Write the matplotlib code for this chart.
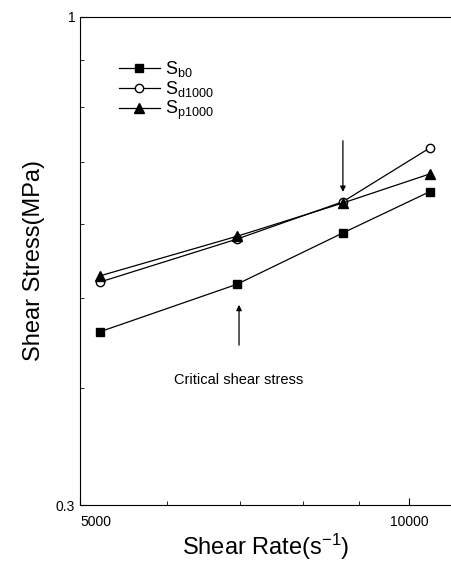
import numpy as np
import matplotlib
matplotlib.use("Agg")
import matplotlib.pyplot as plt
from matplotlib.ticker import FixedLocator, NullFormatter, FixedFormatter

plt.rcParams["font.family"] = ["Liberation Sans", "DejaVu Sans"]
plt.rcParams["mathtext.fontset"] = "custom"
plt.rcParams["mathtext.rm"] = "Liberation Sans"
plt.rcParams["mathtext.it"] = "Liberation Sans"

# data
shear_rate = [5215, 6955, 8700, 10450]
s_b0 = [0.460, 0.517, 0.587, 0.650]
s_d1000 = [0.520, 0.578, 0.634, 0.724]
s_p1000 = [0.528, 0.582, 0.632, 0.679]
labels = [r"S$_{\rm b0}$", r"S$_{\rm d1000}$", r"S$_{\rm p1000}$"]

x_ticks = [5000, 10000]
x_minor = [6000, 7000, 8000, 9000]
y_ticks = [0.3, 1]
y_minor = [0.4, 0.5, 0.6, 0.7, 0.8, 0.9]


def main():
    fig = plt.figure(figsize=(4.51, 5.62), dpi=100)
    ax = fig.add_axes([0.1774, 0.1014, 0.8226, 0.8684])
    ax.set_xscale("log")
    ax.set_yscale("log")

    ax.plot(shear_rate, s_b0, "-s", color="black", lw=0.9, ms=6,
            mfc="black", label=labels[0])
    ax.plot(shear_rate, s_d1000, "-o", color="black", lw=0.9, ms=6,
            mfc="white", label=labels[1])
    ax.plot(shear_rate, s_p1000, "-^", color="black", lw=0.9, ms=7,
            mfc="black", label=labels[2])

    ax.set_xlim(5000, 10925)
    ax.set_ylim(0.3, 1)

    ax.xaxis.set_major_locator(FixedLocator(x_ticks))
    ax.xaxis.set_major_formatter(FixedFormatter([str(v) for v in x_ticks]))
    ax.xaxis.set_minor_locator(FixedLocator(x_minor))
    ax.xaxis.set_minor_formatter(NullFormatter())
    ax.yaxis.set_major_locator(FixedLocator(y_ticks))
    ax.yaxis.set_major_formatter(FixedFormatter(["0.3", "1"]))
    ax.yaxis.set_minor_locator(FixedLocator(y_minor))
    ax.yaxis.set_minor_formatter(NullFormatter())
    ax.tick_params(which="both", direction="in", labelsize=10,
                   top=False, right=False)
    ax.tick_params(which="major", length=5)
    ax.tick_params(which="minor", length=3)
    ax.tick_params(axis="x", pad=7)
    ax.spines["right"].set_visible(False)
    # first x label sits to the right of the axis corner
    ax.get_xticklabels()[0].set_horizontalalignment("left")

    ax.set_xlabel("Shear Rate(s$^{-1}$)", fontsize=17, labelpad=2)
    ax.set_ylabel("Shear Stress(MPa)", fontsize=17, labelpad=8)

    ax.legend(loc="upper left", bbox_to_anchor=(0.06, 0.947), frameon=False,
              fontsize=13, handlelength=2.3, handletextpad=0.3,
              labelspacing=0.0)

    # arrows
    ax.annotate("", xy=(8700, 0.645), xytext=(8700, 0.742),
                arrowprops=dict(arrowstyle="-|>", color="black", lw=0.9,
                                mutation_scale=8))
    ax.annotate("", xy=(6990, 0.495), xytext=(6990, 0.442),
                arrowprops=dict(arrowstyle="-|>", color="black", lw=0.9,
                                mutation_scale=8))
    ax.text(6990, 0.408, "Critical shear stress", ha="center", va="center",
            fontsize=10.5)

    fig.savefig("out.png", dpi=100)
    plt.close(fig)


if __name__ == "__main__":
    main()
